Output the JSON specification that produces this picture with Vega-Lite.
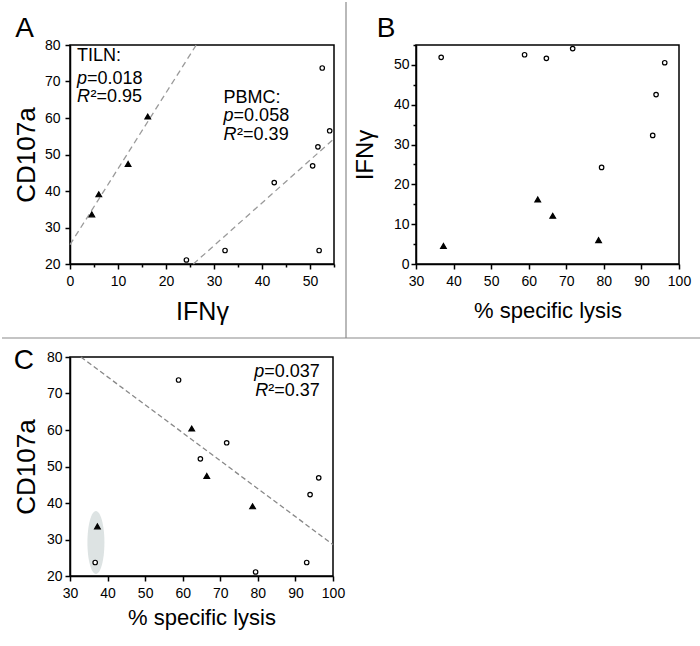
{
  "$schema": "https://vega.github.io/schema/vega-lite/v6.json",
  "padding": 0,
  "autosize": {"type": "pad"},
  "background": "white",
  "bounds": "flush",
  "columns": 2,
  "spacing": {"row": 93, "column": 82},
  "config": {
    "font": "Liberation Sans",
    "view": {"stroke": "black", "strokeWidth": 1.5},
    "axis": {
      "domainColor": "black", "domainWidth": 1.5,
      "tickColor": "black", "tickWidth": 1.5, "tickSize": 5,
      "labelColor": "black", "labelFontSize": 14, "labelFont": "Liberation Sans",
      "titleFont": "Liberation Sans", "titleFontSize": 24, "titleFontWeight": "normal", "titleColor": "black",
      "grid": false, "labelFlush": false, "labelOverlap": false, "labelPadding": 5, "format": "d"
    }
  },
  "datasets": {
    "pts": [
      {"group": "PBMC", "lysis": 36.7, "ifn": 51.9, "cd107a": 23.7},
      {"group": "PBMC", "lysis": 58.9, "ifn": 52.55, "cd107a": 73.7},
      {"group": "PBMC", "lysis": 64.7, "ifn": 51.65, "cd107a": 52.1},
      {"group": "PBMC", "lysis": 71.7, "ifn": 54.1, "cd107a": 56.5},
      {"group": "PBMC", "lysis": 79.4, "ifn": 24.25, "cd107a": 21.1},
      {"group": "PBMC", "lysis": 93.0, "ifn": 32.3, "cd107a": 23.7},
      {"group": "PBMC", "lysis": 93.9, "ifn": 42.55, "cd107a": 42.3},
      {"group": "PBMC", "lysis": 96.2, "ifn": 50.55, "cd107a": 46.9},
      {"group": "TILN", "lysis": 37.3, "ifn": 4.55, "cd107a": 33.6},
      {"group": "TILN", "lysis": 62.4, "ifn": 16.2, "cd107a": 60.4},
      {"group": "TILN", "lysis": 66.4, "ifn": 12.1, "cd107a": 47.4},
      {"group": "TILN", "lysis": 78.6, "ifn": 6.0, "cd107a": 39.1}
    ]
  },
  "concat": [
    {
      "width": 264, "height": 219,
      "layer": [
        {"data": {"values": [{}]}, "mark": {"type": "rule", "color": "#8a8a8a", "strokeWidth": 1.2},
         "encoding": {"x": {"datum": 57.5}, "y": {"datum": 91.78}, "y2": {"datum": -0.27}}},
        {"data": {"values": [{}]}, "mark": {"type": "rule", "color": "#8a8a8a", "strokeWidth": 1.2},
         "encoding": {"x": {"datum": -14.17}, "x2": {"datum": 131.4}, "y": {"datum": -0.27}}},
        {"data": {"values": [{}]}, "mark": {"type": "rule", "color": "#9a9a9a", "strokeWidth": 1.3, "strokeDash": [6, 4]},
         "encoding": {"x": {"datum": 0}, "y": {"datum": 25.3}, "x2": {"datum": 26.3}, "y2": {"datum": 80}}},
        {"data": {"values": [{}]}, "mark": {"type": "rule", "color": "#9a9a9a", "strokeWidth": 1.3, "strokeDash": [6, 4]},
         "encoding": {"x": {"datum": 25.7}, "y": {"datum": 20}, "x2": {"datum": 55}, "y2": {"datum": 54.3}}},
        {"data": {"name": "pts"},
         "mark": {"type": "point", "filled": true, "stroke": "black", "strokeWidth": 1.2, "opacity": 1},
         "encoding": {
           "x": {"field": "ifn", "type": "quantitative", "scale": {"domain": [0, 55], "nice": false, "zero": false},
                 "axis": {"title": "IFNγ", "values": [0, 5, 10, 15, 20, 25, 30, 35, 40, 45, 50, 55], "tickCount": 100, "format": "d",
                          "labelExpr": "datum.value % 10 === 0 ? datum.label : ''", "labelOverlap": false,
                          "tickSize": {"condition": {"test": "datum.value % 10 !== 0", "value": 3}, "value": 5},
                          "titleFontSize": 25, "titleY": 35}},
           "y": {"field": "cd107a", "type": "quantitative", "scale": {"domain": [20, 80], "nice": false, "zero": false},
                 "axis": {"title": "CD107a", "values": [20, 30, 40, 50, 60, 70, 80], "tickCount": 100, "format": "d", "labelOverlap": false, "labelPadding": 5,
                          "titleFontSize": 26, "titleX": -31}},
           "shape": {"field": "group", "type": "nominal", "scale": {"domain": ["PBMC", "TILN"], "range": ["circle", "triangle-up"]}, "legend": null},
           "fill": {"field": "group", "type": "nominal", "scale": {"domain": ["PBMC", "TILN"], "range": ["white", "black"]}, "legend": null},
           "size": {"field": "group", "type": "nominal", "scale": {"domain": ["PBMC", "TILN"], "range": [20, 32]}, "legend": null}
         }},
        {"data": {"values": [{}]}, "mark": {"type": "text", "text": "A", "align": "left", "baseline": "alphabetic", "fontSize": 28, "color": "black"},
         "encoding": {"x": {"datum": -11.4}, "y": {"datum": 82.19}}},
        {"data": {"values": [{}]}, "mark": {"type": "text", "text": "TILN:", "align": "left", "baseline": "alphabetic", "fontSize": 18, "color": "black"},
         "encoding": {"x": {"datum": 1.46}, "y": {"datum": 75.6}}},
        {"data": {"values": [{}]}, "mark": {"type": "text", "text": "p", "fontStyle": "italic", "align": "left", "baseline": "alphabetic", "fontSize": 18, "color": "black"},
         "encoding": {"x": {"datum": 1.46}, "y": {"datum": 69.4}}},
        {"data": {"values": [{}]}, "mark": {"type": "text", "text": "=0.018", "dx": 10, "align": "left", "baseline": "alphabetic", "fontSize": 18, "color": "black"},
         "encoding": {"x": {"datum": 1.46}, "y": {"datum": 69.4}}},
        {"data": {"values": [{}]}, "mark": {"type": "text", "text": "R", "fontStyle": "italic", "align": "left", "baseline": "alphabetic", "fontSize": 18, "color": "black"},
         "encoding": {"x": {"datum": 1.46}, "y": {"datum": 64.4}}},
        {"data": {"values": [{}]}, "mark": {"type": "text", "text": "²=0.95", "dx": 13.5, "align": "left", "baseline": "alphabetic", "fontSize": 18, "color": "black"},
         "encoding": {"x": {"datum": 1.46}, "y": {"datum": 64.4}}},
        {"data": {"values": [{}]}, "mark": {"type": "text", "text": "PBMC:", "align": "left", "baseline": "alphabetic", "fontSize": 18, "color": "black"},
         "encoding": {"x": {"datum": 32.0}, "y": {"datum": 64.1}}},
        {"data": {"values": [{}]}, "mark": {"type": "text", "text": "p", "fontStyle": "italic", "align": "left", "baseline": "alphabetic", "fontSize": 18, "color": "black"},
         "encoding": {"x": {"datum": 32.0}, "y": {"datum": 59.1}}},
        {"data": {"values": [{}]}, "mark": {"type": "text", "text": "=0.058", "dx": 10, "align": "left", "baseline": "alphabetic", "fontSize": 18, "color": "black"},
         "encoding": {"x": {"datum": 32.0}, "y": {"datum": 59.1}}},
        {"data": {"values": [{}]}, "mark": {"type": "text", "text": "R", "fontStyle": "italic", "align": "left", "baseline": "alphabetic", "fontSize": 18, "color": "black"},
         "encoding": {"x": {"datum": 32.0}, "y": {"datum": 54.0}}},
        {"data": {"values": [{}]}, "mark": {"type": "text", "text": "²=0.39", "dx": 13.5, "align": "left", "baseline": "alphabetic", "fontSize": 18, "color": "black"},
         "encoding": {"x": {"datum": 32.0}, "y": {"datum": 54.0}}}
      ]
    },
    {
      "width": 263, "height": 219,
      "layer": [
        {"data": {"name": "pts"},
         "mark": {"type": "point", "filled": true, "stroke": "black", "strokeWidth": 1.2, "opacity": 1},
         "encoding": {
           "x": {"field": "lysis", "type": "quantitative", "scale": {"domain": [30, 100], "nice": false, "zero": false},
                 "axis": {"title": "% specific lysis", "values": [30, 40, 50, 60, 70, 80, 90, 100], "tickCount": 100, "format": "d", "labelOverlap": false,
                          "titleFontSize": 22, "titleY": 36.7}},
           "y": {"field": "ifn", "type": "quantitative", "scale": {"domain": [0, 55], "nice": false, "zero": false},
                 "axis": {"title": "IFNγ", "values": [0, 5, 10, 15, 20, 25, 30, 35, 40, 45, 50, 55], "tickCount": 100, "format": "d",
                          "labelExpr": "datum.value % 10 === 0 ? datum.label : ''", "labelOverlap": false,
                          "tickSize": {"condition": {"test": "datum.value % 10 !== 0", "value": 3}, "value": 5},
                          "labelPadding": 2, "titleFontSize": 24, "titleX": -39}},
           "shape": {"field": "group", "type": "nominal", "scale": {"domain": ["PBMC", "TILN"], "range": ["circle", "triangle-up"]}, "legend": null},
           "fill": {"field": "group", "type": "nominal", "scale": {"domain": ["PBMC", "TILN"], "range": ["white", "black"]}, "legend": null},
           "size": {"field": "group", "type": "nominal", "scale": {"domain": ["PBMC", "TILN"], "range": [20, 32]}, "legend": null}
         }},
        {"data": {"values": [{}]}, "mark": {"type": "text", "text": "B", "align": "left", "baseline": "alphabetic", "fontSize": 28, "color": "black"},
         "encoding": {"x": {"datum": 19.54}, "y": {"datum": 57.01}}}
      ]
    },
    {
      "width": 263, "height": 219,
      "layer": [
        {"data": {"values": [{}]},
         "mark": {"type": "point", "filled": true, "fill": "#dde3e3", "strokeWidth": 0, "opacity": 1, "size": 3969,
                  "shape": "M0,-1C0.149,-1,0.27,-0.552,0.27,0C0.27,0.552,0.149,1,0,1C-0.149,1,-0.27,0.552,-0.27,0C-0.27,-0.552,-0.149,-1,0,-1Z"},
         "encoding": {"x": {"datum": 36.9}, "y": {"datum": 29.2}}},
        {"data": {"values": [{}]}, "mark": {"type": "rule", "color": "#888888", "strokeWidth": 1.3, "strokeDash": [5, 3]},
         "encoding": {"x": {"datum": 32.9}, "y": {"datum": 80}, "x2": {"datum": 100}, "y2": {"datum": 28.6}}},
        {"data": {"name": "pts"},
         "mark": {"type": "point", "filled": true, "stroke": "black", "strokeWidth": 1.2, "opacity": 1},
         "encoding": {
           "x": {"field": "lysis", "type": "quantitative", "scale": {"domain": [30, 100], "nice": false, "zero": false},
                 "axis": {"title": "% specific lysis", "values": [30, 40, 50, 60, 70, 80, 90, 100], "tickCount": 100, "format": "d", "labelOverlap": false,
                          "titleFontSize": 22, "titleY": 31.7}},
           "y": {"field": "cd107a", "type": "quantitative", "scale": {"domain": [20, 80], "nice": false, "zero": false},
                 "axis": {"title": "CD107a", "values": [20, 30, 40, 50, 60, 70, 80], "tickCount": 100, "format": "d", "labelOverlap": false, "labelPadding": 3,
                          "titleFontSize": 26, "titleX": -31}},
           "shape": {"field": "group", "type": "nominal", "scale": {"domain": ["PBMC", "TILN"], "range": ["circle", "triangle-up"]}, "legend": null},
           "fill": {"field": "group", "type": "nominal", "scale": {"domain": ["PBMC", "TILN"], "range": ["white", "black"]}, "legend": null},
           "size": {"field": "group", "type": "nominal", "scale": {"domain": ["PBMC", "TILN"], "range": [20, 32]}, "legend": null}
         }},
        {"data": {"values": [{}]}, "mark": {"type": "text", "text": "C", "align": "left", "baseline": "alphabetic", "fontSize": 28, "color": "black"},
         "encoding": {"x": {"datum": 15.0}, "y": {"datum": 76.71}}},
        {"data": {"values": [{}]}, "mark": {"type": "text", "text": "=0.037", "align": "right", "baseline": "alphabetic", "fontSize": 18, "color": "black"},
         "encoding": {"x": {"datum": 96.5}, "y": {"datum": 74.5}}},
        {"data": {"values": [{}]}, "mark": {"type": "text", "text": "p", "fontStyle": "italic", "dx": -55.5, "align": "right", "baseline": "alphabetic", "fontSize": 18, "color": "black"},
         "encoding": {"x": {"datum": 96.5}, "y": {"datum": 74.5}}},
        {"data": {"values": [{}]}, "mark": {"type": "text", "text": "²=0.37", "align": "right", "baseline": "alphabetic", "fontSize": 18, "color": "black"},
         "encoding": {"x": {"datum": 96.5}, "y": {"datum": 69.3}}},
        {"data": {"values": [{}]}, "mark": {"type": "text", "text": "R", "fontStyle": "italic", "dx": -51.5, "align": "right", "baseline": "alphabetic", "fontSize": 18, "color": "black"},
         "encoding": {"x": {"datum": 96.5}, "y": {"datum": 69.3}}}
      ]
    }
  ]
}
